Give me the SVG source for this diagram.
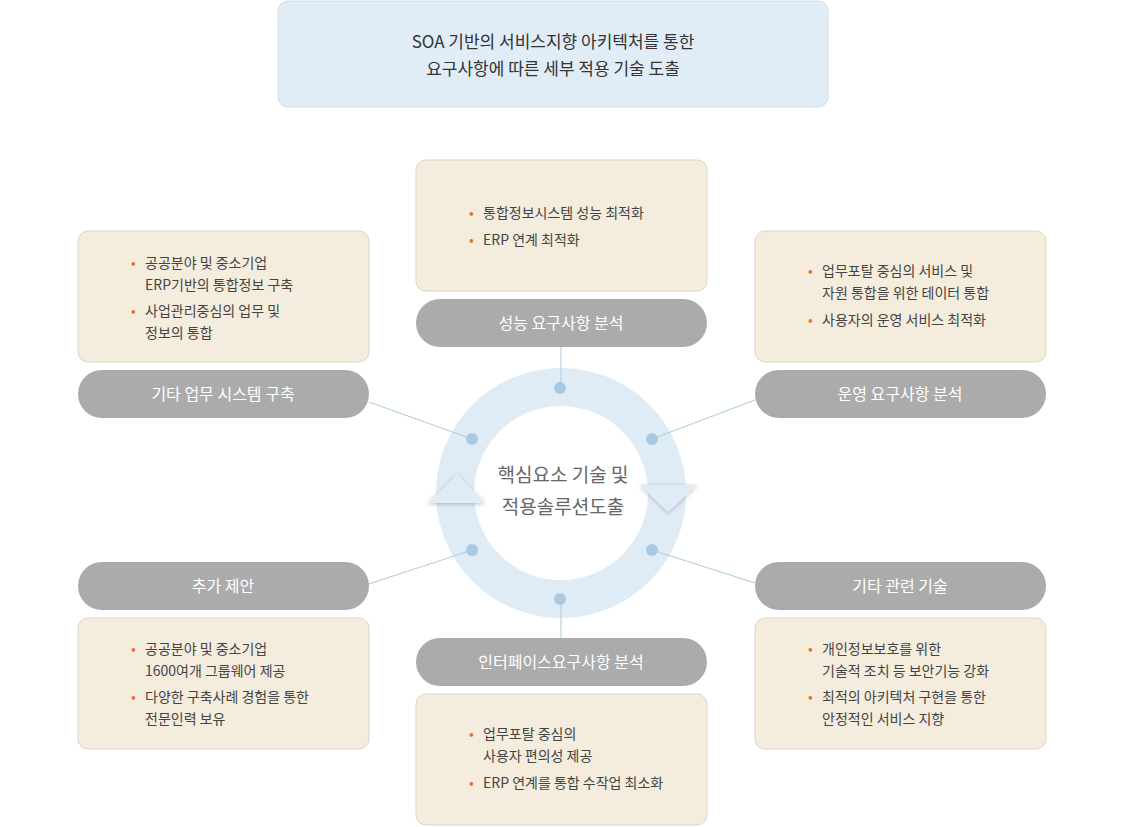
<svg xmlns="http://www.w3.org/2000/svg" width="1136" height="827" viewBox="0 0 1136 827">
<style>
text{font-family:"Noto Sans CJK KR","Noto Sans",sans-serif}
.box{fill:#f4ecdc;stroke:#ddd5c5;stroke-width:1}
.pill{fill:#ababab}
.pt{fill:#fff;font-size:16px;text-anchor:middle}
.bt{fill:#444;font-size:14px}
.bu{fill:#e8722c;font-size:14px}
.ln{stroke:#a9cbe0;stroke-width:1;fill:none}
.dot{fill:#a9c9e2}
</style>
<defs><filter id="sh" x="-30%" y="-30%" width="160%" height="160%"><feDropShadow dx="0" dy="1" stdDeviation="2" flood-color="#000" flood-opacity="0.25"/></filter></defs>
<g id="title"><rect x="278" y="1" width="550" height="106" rx="10" fill="#e1edf6" stroke="#cfdde9"/>
<text x="553" y="48" font-size="17" fill="#333" text-anchor="middle">SOA 기반의 서비스지향 아키텍처를 통한</text>
<text x="553" y="75" font-size="17" fill="#333" text-anchor="middle">요구사항에  따른 세부 적용 기술 도출</text></g>
<g id="center">
<circle cx="561" cy="493" r="106" fill="none" stroke="#dfebf5" stroke-width="38"/>
<polygon points="457,474 485,503 428,503" fill="#dfebf5" filter="url(#sh)"/>
<polygon points="668,512 697,485 640,485" fill="#dfebf5" filter="url(#sh)"/>
<text x="563" y="482" font-size="19" fill="#666" text-anchor="middle">핵심요소 기술 및</text>
<text x="563" y="514" font-size="19" fill="#666" text-anchor="middle">적용솔루션도출</text>
</g>
<g id="connectors">
<path class="ln" d="M561,347V388M369,402L472,439M755,400L652,439M369,584L472,550M755,583L652,550M561,599V638"/>
<circle class="dot" cx="560" cy="388" r="6"/><circle class="dot" cx="472" cy="439" r="6"/><circle class="dot" cx="652" cy="439" r="6"/>
<circle class="dot" cx="472" cy="550" r="6"/><circle class="dot" cx="652" cy="550" r="6"/><circle class="dot" cx="560" cy="599" r="6"/>
</g>
<g id="n-top"><rect class="box" x="416" y="160" width="291" height="131" rx="10"/>
<text class="bu" x="469" y="218">•</text><text class="bt" x="483" y="218">통합정보시스템 성능 최적화</text>
<text class="bu" x="469" y="245">•</text><text class="bt" x="483" y="245">ERP 연계 최적화</text>
<rect class="pill" x="416" y="299" width="291" height="48" rx="24"/><text class="pt" x="561" y="329">성능 요구사항 분석</text></g>
<g id="n-lt"><rect class="box" x="78" y="231" width="291" height="131" rx="10"/>
<text class="bu" x="131" y="268">•</text><text class="bt" x="145" y="268">공공분야 및 중소기업</text>
<text class="bt" x="145" y="290">ERP기반의 통합정보 구축</text>
<text class="bu" x="131" y="316">•</text><text class="bt" x="145" y="316">사업관리중심의 업무 및</text>
<text class="bt" x="145" y="338">정보의 통합</text>
<rect class="pill" x="78" y="370" width="291" height="48" rx="24"/><text class="pt" x="223" y="400">기타 업무 시스템 구축</text></g>
<g id="n-rt"><rect class="box" x="755" y="231" width="291" height="131" rx="10"/>
<text class="bu" x="808" y="276">•</text><text class="bt" x="822" y="276">업무포탈 중심의 서비스 및</text>
<text class="bt" x="822" y="298">자원 통합을 위한 테이터 통합</text>
<text class="bu" x="808" y="325">•</text><text class="bt" x="822" y="325">사용자의 운영 서비스 최적화</text>
<rect class="pill" x="755" y="370" width="291" height="48" rx="24"/><text class="pt" x="900" y="400">운영 요구사항 분석</text></g>
<g id="n-lb"><rect class="pill" x="78" y="562" width="291" height="48" rx="24"/><text class="pt" x="223" y="592">추가 제안</text>
<rect class="box" x="78" y="618" width="291" height="131" rx="10"/>
<text class="bu" x="131" y="654">•</text><text class="bt" x="145" y="654">공공분야 및 중소기업</text>
<text class="bt" x="145" y="676">1600여개 그룹웨어 제공</text>
<text class="bu" x="131" y="702">•</text><text class="bt" x="145" y="702">다양한 구축사례 경험을 통한</text>
<text class="bt" x="145" y="724">전문인력 보유</text></g>
<g id="n-rb"><rect class="pill" x="755" y="562" width="291" height="48" rx="24"/><text class="pt" x="900" y="592">기타 관련 기술</text>
<rect class="box" x="755" y="618" width="291" height="131" rx="10"/>
<text class="bu" x="808" y="654">•</text><text class="bt" x="822" y="654">개인정보보호를 위한</text>
<text class="bt" x="822" y="676">기술적 조치 등 보안기능 강화</text>
<text class="bu" x="808" y="702">•</text><text class="bt" x="822" y="702">최적의 아키텍처 구현을 통한</text>
<text class="bt" x="822" y="724">안정적인 서비스 지향</text></g>
<g id="n-bottom"><rect class="pill" x="416" y="638" width="291" height="48" rx="24"/><text class="pt" x="561" y="668">인터페이스요구사항 분석</text>
<rect class="box" x="416" y="694" width="291" height="131" rx="10"/>
<text class="bu" x="469" y="739">•</text><text class="bt" x="483" y="739">업무포탈 중심의</text>
<text class="bt" x="483" y="761">사용자 편의성 제공</text>
<text class="bu" x="469" y="788">•</text><text class="bt" x="483" y="788">ERP 연계를 통합 수작업 최소화</text></g>
</svg>
